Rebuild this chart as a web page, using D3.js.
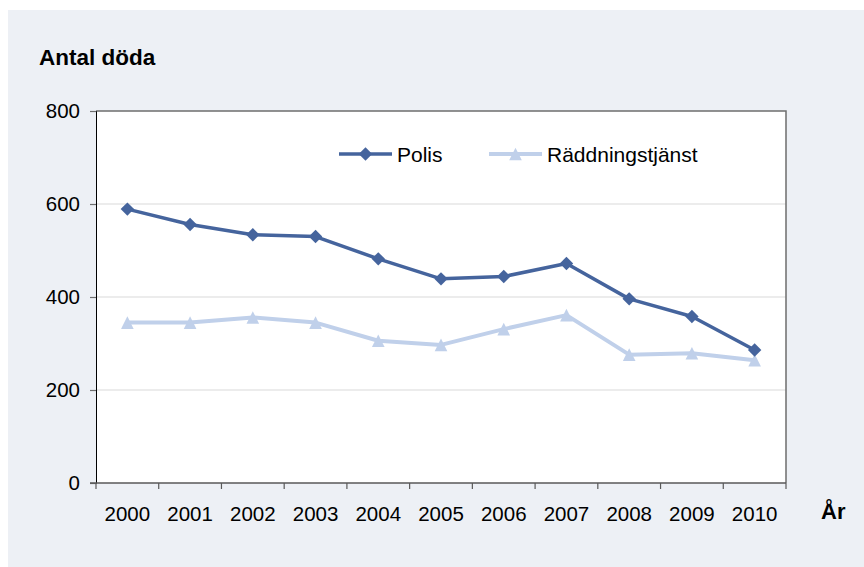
<!DOCTYPE html>
<html>
<head>
<meta charset="utf-8">
<script src="https://cdn.jsdelivr.net/npm/d3@7"></script>
<style>
  html, body { margin: 0; padding: 0; background: #ffffff; }
  svg { display: block; }
  text { font-family: "Liberation Sans", Arial, sans-serif; fill: #000; }
</style>
</head>
<body>
<svg id="chart" width="864" height="567"></svg>
<script>
const years = ["2000","2001","2002","2003","2004","2005","2006","2007","2008","2009","2010"];
const polis = [589, 556, 534, 530, 482, 439, 444, 472, 396, 358, 286];
const raddning = [345, 345, 356, 345, 306, 297, 331, 361, 276, 279, 264];
const yTicks = [0, 200, 400, 600, 800];
const seriesNames = ["Polis", "Räddningstjänst"];

const W = 864, H = 567;
const plot = { left: 96, right: 786, top: 111, bottom: 483 };
const svg = d3.select("#chart");

// background panel
svg.append("rect").attr("x", 8).attr("y", 10).attr("width", W - 8).attr("height", H - 10)
  .attr("fill", "#edf0f5");

const x = d3.scaleBand().domain(years).range([plot.left, plot.right]).padding(0);
const y = d3.scaleLinear().domain([0, 800]).range([plot.bottom, plot.top]);

// plot area
svg.append("rect").attr("x", plot.left).attr("y", plot.top)
  .attr("width", plot.right - plot.left).attr("height", plot.bottom - plot.top)
  .attr("fill", "#ffffff");

// gridlines
svg.append("g").selectAll("line").data(yTicks.filter(d => d > 0 && d < 800)).join("line")
  .attr("x1", plot.left).attr("x2", plot.right)
  .attr("y1", d => y(d)).attr("y2", d => y(d))
  .attr("stroke", "#e6e6e6").attr("stroke-width", 1.5);

// top & right border
svg.append("path")
  .attr("d", `M${plot.left},${y(800)}H${plot.right}V${plot.bottom}`)
  .attr("fill", "none").attr("stroke", "#6e6e6e").attr("stroke-width", 1.5);

// y axis
const yAxis = d3.axisLeft(y).tickValues(yTicks).tickSize(6).tickPadding(10);
const gy = svg.append("g").attr("transform", `translate(${plot.left},0)`).call(yAxis);
gy.select(".domain").attr("stroke", "#000").attr("stroke-width", 1);
gy.selectAll(".tick line").attr("stroke", "#6e6e6e").attr("stroke-width", 1.2);
gy.selectAll(".tick text").attr("font-size", 20.5).attr("fill", "#000")
  .attr("font-family", "Liberation Sans, Arial, sans-serif");

// x axis line
svg.append("line").attr("x1", plot.left - 6).attr("x2", plot.right)
  .attr("y1", plot.bottom).attr("y2", plot.bottom)
  .attr("stroke", "#595959").attr("stroke-width", 1.5);

// x tick marks at category boundaries
const bounds = years.map(d => x(d)).concat([x.range()[1]]);
svg.append("g").selectAll("line").data(bounds).join("line")
  .attr("x1", d => d).attr("x2", d => d)
  .attr("y1", plot.bottom).attr("y2", plot.bottom + 6)
  .attr("stroke", "#595959").attr("stroke-width", 1.2);

// x labels
svg.append("g").selectAll("text").data(years).join("text")
  .attr("x", d => x(d) + x.bandwidth() / 2).attr("y", 521)
  .attr("text-anchor", "middle").attr("font-size", 20.5).text(d => d);

// titles
svg.append("text").attr("x", 39).attr("y", 65).attr("font-size", 22.5)
  .attr("font-weight", "bold").text("Antal döda");
svg.append("text").attr("x", 821).attr("y", 519).attr("font-size", 22)
  .attr("font-weight", "bold").text("År");

// custom symbols
const diamond = { draw(ctx, size) { const r = Math.sqrt(size) / 2;
  ctx.moveTo(0, -r); ctx.lineTo(r, 0); ctx.lineTo(0, r); ctx.lineTo(-r, 0); ctx.closePath(); } };
const triangle = { draw(ctx, size) { const r = Math.sqrt(size) / 2;
  ctx.moveTo(0, -r); ctx.lineTo(r, r); ctx.lineTo(-r, r); ctx.closePath(); } };

const series = [
  { name: seriesNames[0], values: polis, color: "#45649d", width: 3.5, symbol: diamond, size: 180 },
  { name: seriesNames[1], values: raddning, color: "#c0d0ea", width: 4, symbol: triangle, size: 160 }
];

const line = d3.line().x((d, i) => x(years[i]) + x.bandwidth() / 2).y(d => y(d));

// draw Räddningstjänst first so Polis on top
[series[1], series[0]].forEach(s => {
  const g = svg.append("g");
  g.append("path").attr("d", line(s.values)).attr("fill", "none")
    .attr("stroke", s.color).attr("stroke-width", s.width).attr("stroke-linejoin", "round");
  g.selectAll("path.m").data(s.values).join("path").attr("class", "m")
    .attr("transform", (d, i) => `translate(${x(years[i]) + x.bandwidth() / 2},${y(d)})`)
    .attr("d", d3.symbol().type(s.symbol).size(s.size)).attr("fill", s.color);
});

// legend
const legendItems = [
  { s: series[0], x0: 339, tx: 397 },
  { s: series[1], x0: 489, tx: 547 }
];
const lg = svg.append("g");
legendItems.forEach(it => {
  lg.append("line").attr("x1", it.x0).attr("x2", it.x0 + 53).attr("y1", 154).attr("y2", 154)
    .attr("stroke", it.s.color).attr("stroke-width", it.s.width);
  lg.append("path").attr("transform", `translate(${it.x0 + 26.5},154)`)
    .attr("d", d3.symbol().type(it.s.symbol).size(it.s.size)).attr("fill", it.s.color);
  lg.append("text").attr("x", it.tx).attr("y", 161.5).attr("font-size", 21).text(it.s.name);
});
</script>
</body>
</html>
